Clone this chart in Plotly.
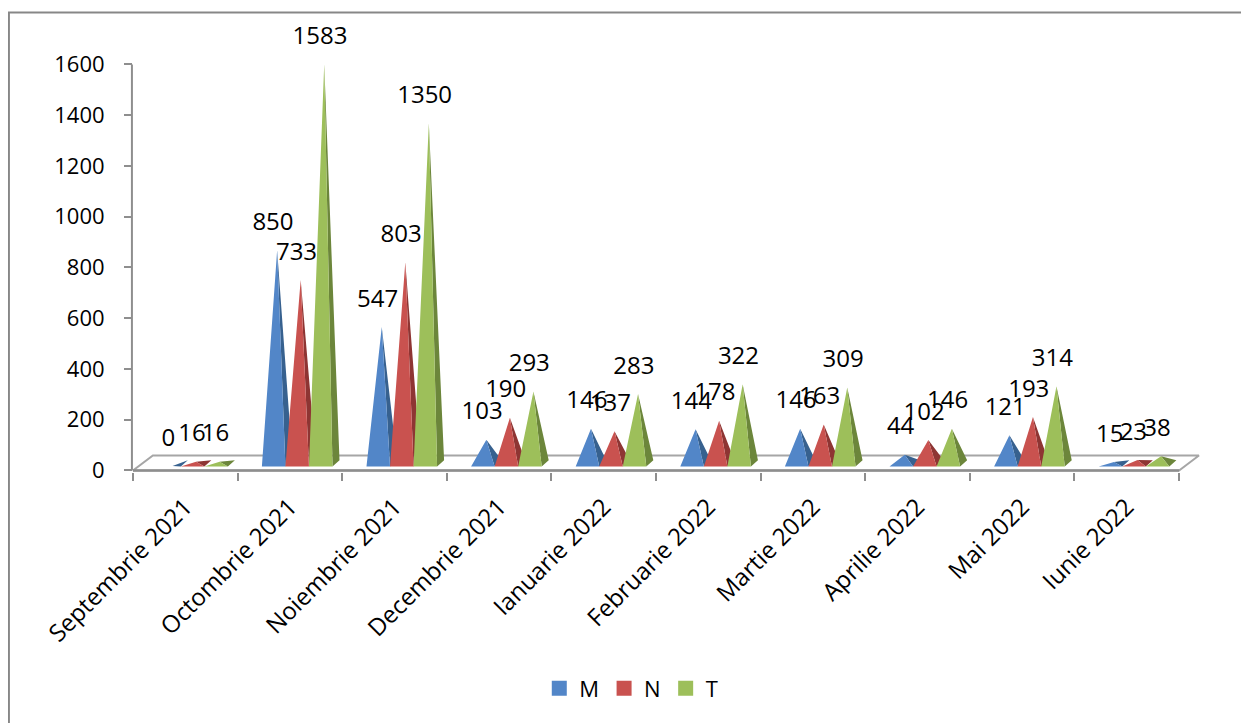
import plotly.graph_objects as go

categories = ["Septembrie 2021", "Octombrie 2021", "Noiembrie 2021", "Decembrie 2021",
              "Ianuarie 2022", "Februarie 2022", "Martie 2022", "Aprilie 2022",
              "Mai 2022", "Iunie 2022"]
series_names = ["M", "N", "T"]
M = [0, 850, 547, 103, 146, 144, 146, 44, 121, 15]
N = [16, 733, 803, 190, 137, 178, 163, 102, 193, 23]
T = [16, 1583, 1350, 293, 283, 322, 309, 146, 314, 38]
series_values = [M, N, T]
yticks = [0, 200, 400, 600, 800, 1000, 1200, 1400, 1600]

front_colors = ["#5286C8", "#C9524F", "#9DBF5A"]
side_colors = ["#37618F", "#8E3533", "#6C863B"]

FONT = "Open Sans"
GRAY = "#8E8E8E"

# pseudo-3D geometry (category units / value units)
offsets = [-0.268, -0.043, 0.182]
width = 0.225
dx = 0.067
base_front = 16
base_back = 40
apex_lift = 18
depth_floor = 59
shift_floor = 0.19

fig = go.Figure()

# floor
fig.add_trace(go.Scatter(
    x=[-0.5, 9.5, 9.5 + shift_floor, -0.5 + shift_floor, -0.5],
    y=[0, 0, depth_floor, depth_floor, 0],
    mode="lines", fill="toself", fillcolor="white",
    line=dict(color="#A6A6A6", width=2), showlegend=False, hoverinfo="skip"))
fig.add_trace(go.Scatter(
    x=[-0.5, 9.5], y=[0, 0], mode="lines",
    line=dict(color=GRAY, width=2.5), showlegend=False, hoverinfo="skip"))

for j, vals in enumerate(series_values):
    sx, sy, fx, fy = [], [], [], []
    for i, v in enumerate(vals):
        xl = i + offsets[j]
        xr = xl + width
        ax = (xl + xr) / 2 + dx / 2
        ay = v + apex_lift
        sx += [xr, xr + dx, ax, xr, None]
        sy += [base_front, base_back, ay, base_front, None]
        fx += [xl, xr, ax, xl, None]
        fy += [base_front, base_front, ay, base_front, None]
    fig.add_trace(go.Scatter(x=sx, y=sy, mode="lines", fill="toself",
                             fillcolor=side_colors[j], line=dict(width=0, color=side_colors[j]),
                             showlegend=False, hoverinfo="skip"))
    fig.add_trace(go.Scatter(x=fx, y=fy, mode="lines", fill="toself",
                             fillcolor=front_colors[j], line=dict(width=0, color=front_colors[j]),
                             showlegend=False, hoverinfo="skip"))

# data labels
for j, vals in enumerate(series_values):
    lx = [i + offsets[j] + width / 2 + dx / 2 - 0.04 for i in range(len(vals))]
    ly = [v + apex_lift + 104 for v in vals]
    fig.add_trace(go.Scatter(x=lx, y=ly, mode="text", text=[str(v) for v in vals],
                             textposition="middle center",
                             textfont=dict(family=FONT, size=24, color="black"),
                             cliponaxis=False, showlegend=False, hoverinfo="skip"))

# legend entries
for j, name in enumerate(series_names):
    fig.add_trace(go.Scatter(x=[None], y=[None], mode="markers", name=name,
                             marker=dict(symbol="square", size=15, color=front_colors[j])))

fig.update_layout(
    width=1249, height=723,
    margin=dict(l=125, r=57.1, t=25.55, b=259.48, pad=0, autoexpand=False),
    paper_bgcolor="white", plot_bgcolor="white",
    font=dict(family=FONT, size=22, color="black"),
    showlegend=True,
    legend=dict(orientation="h", x=0.467, y=-0.4943, xanchor="center", yanchor="middle",
                font=dict(family=FONT, size=22), itemwidth=30, tracegroupgap=0),
    xaxis=dict(range=[-0.5, 9.7], tickmode="array", tickvals=list(range(len(categories))),
               ticktext=categories, tickangle=-45, ticks="", showgrid=False, zeroline=False,
               showline=False, automargin=False, ticklabelstandoff=15,
               tickfont=dict(family=FONT, size=24),
               minor=dict(tickmode="array", tickvals=[k - 0.5 for k in range(len(categories) + 1)],
                          ticks="outside", ticklen=8, tickwidth=2, tickcolor=GRAY, showgrid=False)),
    yaxis=dict(range=[-6, 1720], tickmode="array", tickvals=yticks, ticks="outside",
               ticklen=8, tickwidth=2, tickcolor=GRAY, showline=False,
               showgrid=False, zeroline=False, ticklabelstandoff=15,
               automargin=False, tickfont=dict(family=FONT, size=22)),
    shapes=[
        dict(type="line", xref="paper", yref="y", x0=-0.001, x1=-0.001,
             y0=yticks[0], y1=yticks[-1], line=dict(color=GRAY, width=2)),
        dict(type="rect", xref="paper", yref="paper",
             x0=-0.1163, x1=1.08, y0=-0.7, y1=1.0492,
             line=dict(color="#878787", width=2), fillcolor="rgba(0,0,0,0)", layer="below"),
    ],
)

fig.write_html("out.html")
